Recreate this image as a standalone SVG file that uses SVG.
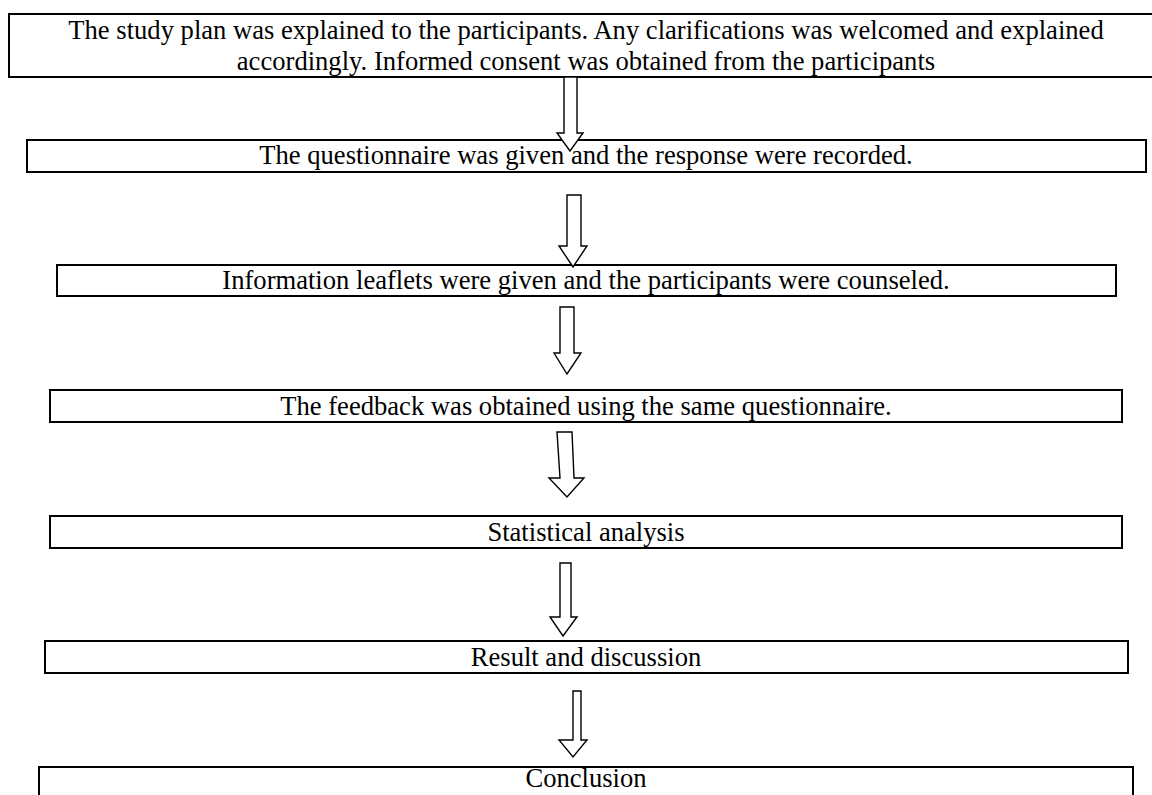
<svg xmlns="http://www.w3.org/2000/svg" width="1152" height="795" viewBox="0 0 1152 795">
<style>
.box{fill:#fff;stroke:#000;stroke-width:2}
.t{font-family:"Liberation Serif","Times New Roman",serif;font-size:26.6px;fill:#000;text-anchor:middle}
.arr{fill:#fff;stroke:#000;stroke-width:1.4;stroke-linejoin:miter}
</style>
<rect width="1152" height="795" fill="#fff"/>
<g id="n1"><rect class="box" x="9" y="14" width="1160" height="63"/>
<text class="t" x="586" y="39">The study plan was explained to the participants. Any clarifications was welcomed and explained</text>
<text class="t" x="586" y="70">accordingly. Informed consent was obtained from the participants</text></g>
<g id="n2"><rect class="box" x="27" y="140" width="1119" height="32"/>
<text class="t" x="586" y="164">The questionnaire was given and the response were recorded.</text></g>
<g id="n3"><rect class="box" x="57" y="265" width="1059" height="31"/>
<text class="t" x="586" y="289">Information leaflets were given and the participants were counseled.</text></g>
<g id="n4"><rect class="box" x="50" y="390" width="1072" height="32"/>
<text class="t" x="586" y="415">The feedback was obtained using the same questionnaire.</text></g>
<g id="n5"><rect class="box" x="50" y="516" width="1072" height="32"/>
<text class="t" x="586" y="541">Statistical analysis</text></g>
<g id="n6"><rect class="box" x="45" y="641" width="1083" height="32"/>
<text class="t" x="586" y="666">Result and discussion</text></g>
<g id="n7"><rect class="box" x="39" y="767" width="1094" height="40"/>
<text class="t" x="586" y="787">Conclusion</text></g>
<g id="connectors">
<path class="arr" d="M564,77 L577,77 L577,133 L583,133 L570,151 L557,133 L564,133 Z"/>
<path class="arr" d="M567,195 L581,195 L581,246 L587,246 L573,267 L559,246 L567,246 Z"/>
<path class="arr" d="M560,307 L574,307 L574,353 L581,353 L567,374 L554,353 L560,353 Z"/>
<path class="arr" d="M557,432 L572,432 L574,478 L584,478 L567,497 L549,478 L560,478 Z"/>
<path class="arr" d="M560,563 L571,563 L571,617 L577,617 L563,636 L550,617 L560,617 Z"/>
<path class="arr" d="M573,691 L581,691 L581,740 L587,740 L573,757 L559,740 L573,740 Z"/>
</g>
</svg>
